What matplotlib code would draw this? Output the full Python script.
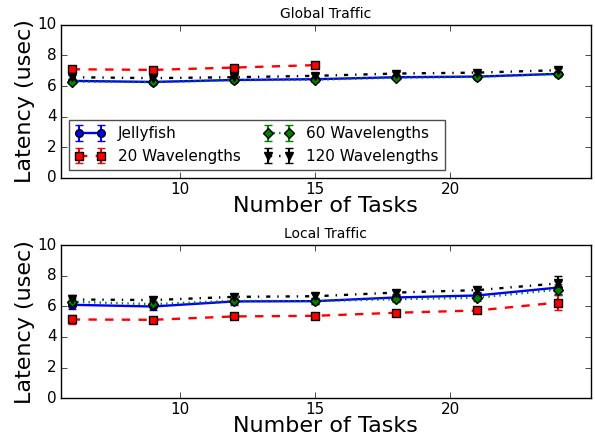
"""Latency vs number of tasks, Jellyfish vs wavelength configs (global / local traffic)."""
import matplotlib
matplotlib.use("Agg")
import matplotlib.pyplot as plt

plt.style.use("classic")

tasks = [6, 9, 12, 15, 18, 21, 24]

# global traffic
g_jelly = [6.34, 6.27, 6.40, 6.45, 6.58, 6.62, 6.80]
g_jelly_err = [0.12, 0.10, 0.10, 0.10, 0.10, 0.10, 0.12]
g_w20 = [7.10, 7.06, 7.21, 7.37]
g_w20_err = [0.12, 0.10, 0.10, 0.10]
g_w60 = [6.30, 6.26, 6.38, 6.42, 6.55, 6.60, 6.80]
g_w60_err = [0.12, 0.10, 0.10, 0.12, 0.10, 0.10, 0.12]
g_w120 = [6.58, 6.52, 6.58, 6.67, 6.82, 6.88, 7.04]
g_w120_err = [0.15, 0.15, 0.15, 0.15, 0.12, 0.12, 0.15]

# local traffic
l_jelly = [6.10, 5.99, 6.32, 6.34, 6.58, 6.71, 7.23]
l_jelly_err = [0.25, 0.20, 0.20, 0.20, 0.20, 0.25, 0.45]
l_w20 = [5.14, 5.12, 5.34, 5.38, 5.58, 5.73, 6.25]
l_w20_err = [0.28, 0.15, 0.18, 0.15, 0.15, 0.15, 0.50]
l_w60 = [6.30, 6.14, 6.36, 6.34, 6.47, 6.56, 7.10]
l_w60_err = [0.25, 0.20, 0.20, 0.20, 0.20, 0.20, 0.35]
l_w120 = [6.45, 6.41, 6.62, 6.66, 6.90, 7.06, 7.50]
l_w120_err = [0.30, 0.20, 0.20, 0.20, 0.20, 0.20, 0.50]

labels = ["Jellyfish", "20 Wavelengths", "60 Wavelengths", "120 Wavelengths"]

fig = plt.figure(figsize=(5.95, 4.37), dpi=100, facecolor="white")
ax1 = fig.add_axes([0.1025, 0.593, 0.8905, 0.350])
ax2 = fig.add_axes([0.1025, 0.089, 0.8905, 0.350])

def draw(ax, jelly, je, w20, w20e, w60, w60e, w120, w120e, title):
    kw = dict(lw=1.7, ms=5.5, capsize=3, elinewidth=1.5, mew=1)
    ax.errorbar(tasks, jelly, yerr=je, fmt="-o", color="b", ecolor="b", label=labels[0], **kw)
    x20 = tasks[:len(w20)]
    ax.errorbar(x20, w20, yerr=w20e, fmt="--s", color="r", ecolor="r", label=labels[1], **kw)
    ax.errorbar(tasks, w60, yerr=w60e, fmt=":D", color="g", ecolor="g", label=labels[2], **kw)
    ax.errorbar(tasks, w120, yerr=w120e, fmt="-.v", color="k", ecolor="k", label=labels[3], **kw)
    ax.set_xlim(5.6, 25.2)
    ax.set_ylim(0, 10)
    ax.set_xticks([10, 15, 20])
    ax.set_yticks([0, 2, 4, 6, 8, 10])
    ax.tick_params(labelsize=11, pad=3)
    ax.set_title(title, fontsize=10)
    ax.set_xlabel("Number of Tasks", fontsize=16, labelpad=-1)
    ax.set_ylabel("Latency (usec)", fontsize=16, labelpad=2)

draw(ax1, g_jelly, g_jelly_err, g_w20, g_w20_err, g_w60, g_w60_err, g_w120, g_w120_err, "Global Traffic")
draw(ax2, l_jelly, l_jelly_err, l_w20, l_w20_err, l_w60, l_w60_err, l_w120, l_w120_err, "Local Traffic")
leg = ax1.legend(loc="lower left", ncol=2, numpoints=2, fontsize=11, columnspacing=1.5)
leg.get_frame().set_edgecolor("0.3")

fig.savefig("out.png", dpi=100, facecolor="white")
